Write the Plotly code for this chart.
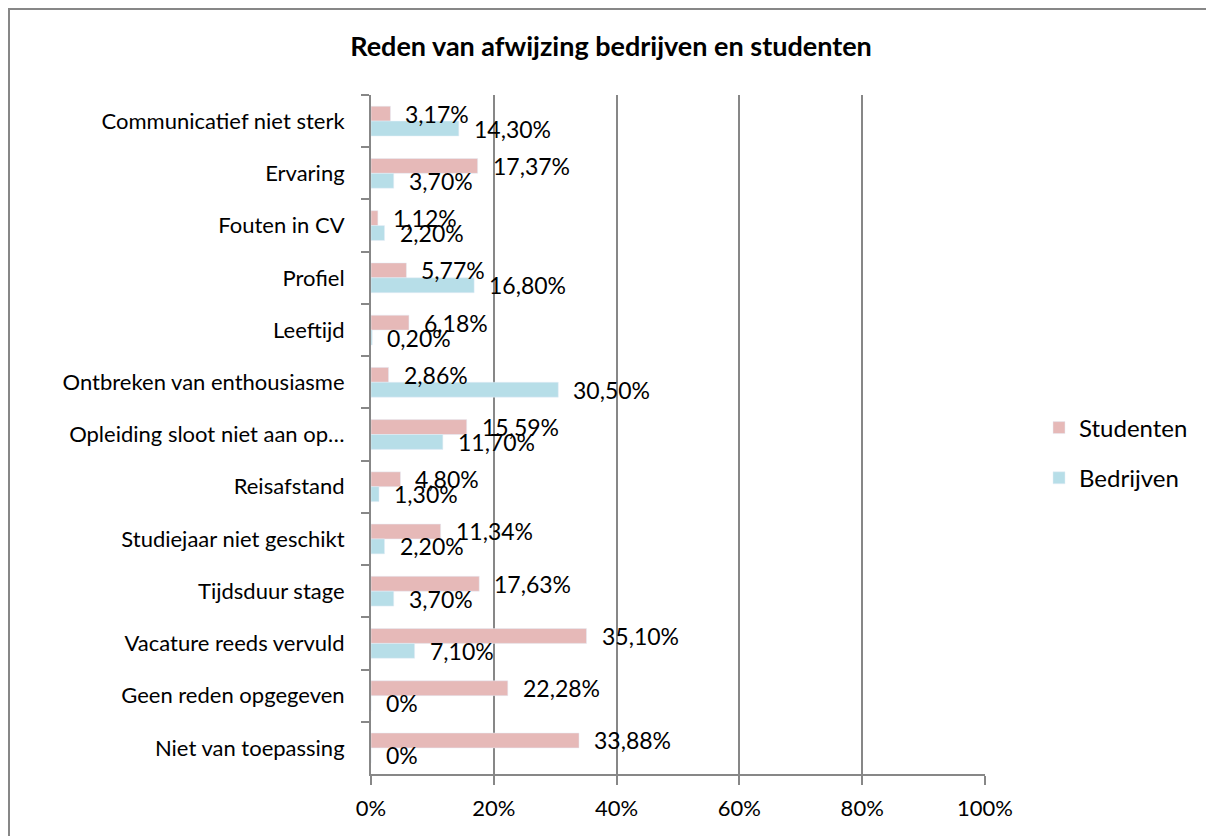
import plotly.graph_objects as go

categories = ["Communicatief niet sterk", "Ervaring", "Fouten in CV", "Profiel", "Leeftijd",
              "Ontbreken van enthousiasme", "Opleiding sloot niet aan op…", "Reisafstand",
              "Studiejaar niet geschikt", "Tijdsduur stage", "Vacature reeds vervuld",
              "Geen reden opgegeven", "Niet van toepassing"]
studenten = [3.17, 17.37, 1.12, 5.77, 6.18, 2.86, 15.59, 4.80, 11.34, 17.63, 35.10, 22.28, 33.88]
bedrijven = [14.30, 3.70, 2.20, 16.80, 0.20, 30.50, 11.70, 1.30, 2.20, 3.70, 7.10, 0, 0]
x_ticks = [0, 20, 40, 60, 80, 100]
x_ticklabels = ["0%", "20%", "40%", "60%", "80%", "100%"]

FONT = "Lato"
GRAY = "#878787"
PINK = "#E6B9B8"
BLUE = "#B7DEE8"

OFF = 8  # page offset of the figure (body margin)


def fmt(v):
    if v == 0:
        return "0%"
    return f"{v:.2f}".replace(".", ",") + "%"


fig = go.Figure()
fig.add_trace(go.Bar(y=categories, x=studenten, orientation="h", name="Studenten",
                     marker=dict(color=PINK), legendgroup="s"))
fig.add_trace(go.Bar(y=categories, x=bedrijven, orientation="h", name="Bedrijven",
                     marker=dict(color=BLUE), legendgroup="b"))

LBL = dict(family=FONT, size=23, color="black")
annotations = []
for c, v in zip(categories, studenten):
    annotations.append(dict(x=v, y=c, xref="x", yref="y", text=fmt(v), showarrow=False,
                            xanchor="left", yanchor="middle", xshift=13, yshift=7.5,
                            font=LBL))
for c, v in zip(categories, bedrijven):
    annotations.append(dict(x=v, y=c, xref="x", yref="y", text=fmt(v), showarrow=False,
                            xanchor="left", yanchor="middle", xshift=13, yshift=-7.5,
                            font=LBL))

W, H = 1214 - OFF, 836 - OFF
L, R, T, B = 371 - OFF, 985 - OFF, 95 - OFF, 774 - OFF


def px_to_paper_x(px):
    return (px - OFF - L) / (R - L)


def px_to_paper_y(py):
    return (B - (py - OFF)) / (B - T)


fig.update_layout(
    width=W, height=H,
    margin=dict(l=L, r=W - R, t=T, b=H - B, autoexpand=False),
    paper_bgcolor="white", plot_bgcolor="white",
    barmode="group", bargap=0.43, bargroupgap=0,
    font=dict(family=FONT, size=22, color="black"),
    title=dict(text="<b>Reden van afwijzing bedrijven en studenten</b>",
               x=0.5, xanchor="center", xref="container", y=1 - (47 - OFF) / H, yanchor="middle",
               font=dict(family=FONT, size=27, color="black")),
    xaxis=dict(range=[0, 100], tickvals=x_ticks, ticktext=x_ticklabels,
               showgrid=True, gridcolor=GRAY, gridwidth=2, zeroline=False,
               showline=True, linecolor=GRAY, linewidth=2,
               ticks="outside", ticklen=9, tickcolor=GRAY, tickwidth=2,
               ticklabelstandoff=5,
               tickfont=dict(family=FONT, size=22, color="black")),
    yaxis=dict(autorange="reversed", type="category", showgrid=False, zeroline=False,
               showline=True, linecolor=GRAY, linewidth=2,
               ticks="outside", tickson="boundaries", ticklen=8, tickcolor=GRAY, tickwidth=2,
               ticklabelstandoff=20,
               tickfont=dict(family=FONT, size=22, color="black")),
    legend=dict(x=px_to_paper_x(1039), y=px_to_paper_y(453), xanchor="left", yanchor="middle",
                font=dict(family=FONT, size=24, color="black"), tracegroupgap=16,
                bgcolor="rgba(0,0,0,0)"),
    annotations=annotations,
    shapes=[dict(type="rect", xref="paper", yref="paper",
                 x0=px_to_paper_x(9), x1=px_to_paper_x(1240),
                 y0=px_to_paper_y(860), y1=px_to_paper_y(9),
                 line=dict(color=GRAY, width=2), fillcolor="rgba(0,0,0,0)", layer="below")],
)

fig.write_html("out.html")
